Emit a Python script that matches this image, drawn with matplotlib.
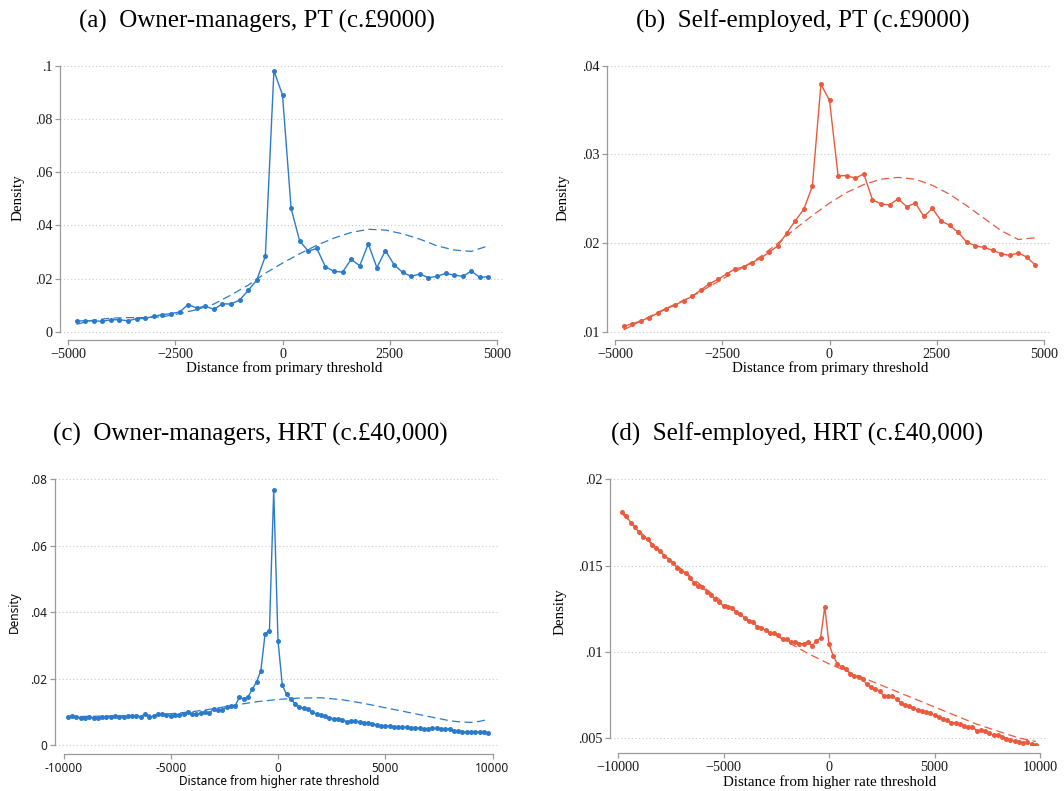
import numpy as np
import matplotlib
matplotlib.use("Agg")
import matplotlib.pyplot as plt

W, H = 1064, 791
BLUE = "#2b7bcc"
RED = "#ea5a3d"
SERIF = ["Liberation Serif", "DejaVu Serif"]
SANS = ["Noto Sans", "DejaVu Sans"]

# (a) owner-managers, primary threshold, 200-wide bins
a_x = np.arange(-4800, 4801, 200)
a_y = [0.0040, 0.0041, 0.0041, 0.0039, 0.0045, 0.0045, 0.0041, 0.0049, 0.0050, 0.0058,
       0.0064, 0.0068, 0.0074, 0.0102, 0.0089, 0.0096, 0.0084, 0.0105, 0.0104, 0.0119,
       0.0155, 0.0194, 0.0284, 0.0981, 0.0890, 0.0464, 0.0341, 0.0303, 0.0313, 0.0244,
       0.0227, 0.0224, 0.0272, 0.0248, 0.0330, 0.0241, 0.0305, 0.0252, 0.0223, 0.0208,
       0.0217, 0.0203, 0.0208, 0.0219, 0.0213, 0.0208, 0.0228, 0.0204, 0.0207]
a_fit_x = [-4800, -4400, -4000, -3600, -3200, -2800, -2400, -2000, -1600, -1200, -800, -400,
           0, 400, 800, 1200, 1600, 2000, 2400, 2800, 3200, 3600, 4000, 4400, 4800]
a_fit_y = [0.0028, 0.0044, 0.0051, 0.0053, 0.0053, 0.0056, 0.0068, 0.0083, 0.0104, 0.0138,
           0.0175, 0.0220, 0.0258, 0.0293, 0.0325, 0.0352, 0.0373, 0.0385, 0.0382, 0.0368,
           0.0348, 0.0323, 0.0307, 0.0302, 0.0323]

# (b) self-employed, primary threshold
b_x = np.arange(-4800, 4801, 200)
b_y = [0.0106, 0.0109, 0.0112, 0.0116, 0.0121, 0.0126, 0.0130, 0.0135, 0.0140, 0.0147,
       0.0154, 0.0159, 0.0165, 0.0171, 0.0173, 0.0178, 0.0183, 0.0190, 0.0197, 0.0211,
       0.0225, 0.0238, 0.0264, 0.0379, 0.0361, 0.0276, 0.0276, 0.0273, 0.0278, 0.0249,
       0.0244, 0.0243, 0.0250, 0.0241, 0.0245, 0.0230, 0.0239, 0.0225, 0.0220, 0.0212,
       0.0201, 0.0197, 0.0195, 0.0192, 0.0188, 0.0186, 0.0189, 0.0184, 0.0175]
b_fit_x = a_fit_x
b_fit_y = [0.0102, 0.0112, 0.0122, 0.0131, 0.0140, 0.0151, 0.0162, 0.0173, 0.0185, 0.0200,
           0.0216, 0.0231, 0.0245, 0.0257, 0.0266, 0.0272, 0.0274, 0.0272, 0.0265, 0.0255,
           0.0242, 0.0228, 0.0214, 0.0204, 0.0206]

# (c) owner-managers, higher rate threshold
c_x = np.arange(-9800, 9801, 200)
c_y = [0.0086, 0.0089, 0.0086, 0.0083, 0.0082, 0.0086, 0.0082, 0.0082, 0.0085, 0.0085,
       0.0086, 0.0088, 0.0085, 0.0085, 0.0088, 0.0088, 0.0088, 0.0086, 0.0094, 0.0086,
       0.0088, 0.0095, 0.0094, 0.0092, 0.0089, 0.0091, 0.0092, 0.0095, 0.0099, 0.0094,
       0.0094, 0.0096, 0.0101, 0.0096, 0.0110, 0.0106, 0.0106, 0.0115, 0.0119, 0.0118,
       0.0145, 0.0139, 0.0146, 0.0168, 0.0191, 0.0224, 0.0336, 0.0345, 0.0767, 0.0315,
       0.0181, 0.0153, 0.0138, 0.0125, 0.0116, 0.0111, 0.0110, 0.0099, 0.0094, 0.0091,
       0.0088, 0.0082, 0.0080, 0.0080, 0.0077, 0.0071, 0.0073, 0.0072, 0.0071, 0.0068,
       0.0066, 0.0065, 0.0061, 0.0059, 0.0059, 0.0058, 0.0055, 0.0055, 0.0054, 0.0054,
       0.0051, 0.0052, 0.0052, 0.0049, 0.0050, 0.0051, 0.0051, 0.0050, 0.0048, 0.0050,
       0.0044, 0.0044, 0.0041, 0.0040, 0.0041, 0.0041, 0.0040, 0.0040, 0.0038]
c_fit_x = [-9800, -9000, -8000, -7000, -6000, -5000, -4000, -3000, -2000, -1000, 0,
           1000, 2000, 3000, 4000, 5000, 6000, 7000, 8000, 8500, 9000, 9400, 9800]
c_fit_y = [0.0086, 0.0087, 0.0088, 0.0089, 0.0091, 0.0095, 0.0101, 0.0110, 0.0121, 0.0131, 0.0138,
           0.0142, 0.0143, 0.0137, 0.0126, 0.0113, 0.0100, 0.0087, 0.0074, 0.0070, 0.0069, 0.0072, 0.0078]

# (d) self-employed, higher rate threshold
d_x = np.arange(-9800, 9801, 200)
d_y = [0.01809, 0.01787, 0.01749, 0.01722, 0.01693, 0.01664, 0.01656, 0.01617, 0.01604, 0.01582,
       0.01557, 0.01534, 0.01517, 0.01488, 0.01470, 0.01459, 0.01428, 0.01401, 0.01379, 0.01376,
       0.01349, 0.01331, 0.01308, 0.01291, 0.01263, 0.01262, 0.01256, 0.01231, 0.01221, 0.01196,
       0.01180, 0.01175, 0.01142, 0.01140, 0.01124, 0.01107, 0.01107, 0.01095, 0.01072, 0.01072,
       0.01055, 0.01057, 0.01047, 0.01047, 0.01055, 0.01035, 0.01062, 0.01080, 0.01260, 0.01043,
       0.00977, 0.00929, 0.00912, 0.00902, 0.00871, 0.00859, 0.00852, 0.00840, 0.00811, 0.00794,
       0.00786, 0.00771, 0.00743, 0.00745, 0.00742, 0.00724, 0.00705, 0.00691, 0.00686, 0.00672,
       0.00664, 0.00655, 0.00653, 0.00645, 0.00631, 0.00624, 0.00608, 0.00606, 0.00587, 0.00589,
       0.00581, 0.00569, 0.00562, 0.00566, 0.00541, 0.00544, 0.00539, 0.00527, 0.00517, 0.00517,
       0.00508, 0.00496, 0.00488, 0.00484, 0.00479, 0.00469, 0.00477, 0.00463, 0.00457]
d_fit_x = [-9800, -8000, -6000, -4000, -2000, -1000, 0, 1000, 2000, 3000, 4000, 5000,
           6000, 7000, 8000, 9000, 9800]
d_fit_y = [0.0180, 0.0158, 0.0138, 0.0119, 0.0106, 0.0099, 0.0093, 0.0088, 0.0083, 0.0078, 0.0073,
           0.0068, 0.0063, 0.0058, 0.0054, 0.0050, 0.0048]

titles = ["(a)  Owner-managers, PT (c.\u00a39000)", "(b)  Self-employed, PT (c.\u00a39000)",
          "(c)  Owner-managers, HRT (c.\u00a340,000)", "(d)  Self-employed, HRT (c.\u00a340,000)"]
xlabels = ["Distance from primary threshold", "Distance from primary threshold",
           "Distance from higher rate threshold", "Distance from higher rate threshold"]
a_yticks = [0, 0.02, 0.04, 0.06, 0.08, 0.1]
a_ylabs = ["0", ".02", ".04", ".06", ".08", ".1"]
b_yticks = [0.01, 0.02, 0.03, 0.04]
b_ylabs = [".01", ".02", ".03", ".04"]
c_yticks = [0, 0.02, 0.04, 0.06, 0.08]
c_ylabs = ["0", ".02", ".04", ".06", ".08"]
d_yticks = [0.005, 0.01, 0.015, 0.02]
d_ylabs = [".005", ".01", ".015", ".02"]
pt_xticks = [-5000, -2500, 0, 2500, 5000]
pt_xlabs = ["\u22125000", "\u22122500", "0", "2500", "5000"]
hrt_xticks = [-10000, -5000, 0, 5000, 10000]
hrt_xlabs_sans = ["-10000", "-5000", "0", "5000", "10000"]
hrt_xlabs = ["\u221210000", "\u22125000", "0", "5000", "10000"]

fig = plt.figure(figsize=(W / 100, H / 100), dpi=100)


def make_ax(xt, xp, yt, yp, left, right, top, bottom, spine_px):
    sx = (xp[1] - xp[0]) / (xt[1] - xt[0])
    sy = (yp[1] - yp[0]) / (yt[1] - yt[0])
    ax = fig.add_axes([left / W, 1 - bottom / H, (right - left) / W, (bottom - top) / H])
    ax.set_xlim(xt[0] + (left - xp[0]) / sx, xt[0] + (right - xp[0]) / sx)
    ax.set_ylim(yt[0] + (bottom - yp[0]) / sy, yt[0] + (top - yp[0]) / sy)
    for s in ["top", "right"]:
        ax.spines[s].set_visible(False)
    for s in ["left", "bottom"]:
        ax.spines[s].set_color("#9a9a9a")
        ax.spines[s].set_linewidth(0.9)
    ax.spines["bottom"].set_position(("outward", (spine_px - bottom) * 0.72))
    ax.tick_params(colors="#9a9a9a", labelcolor="#1a1a1a", length=3.5, width=0.9, pad=2)
    return ax


def finish(ax, xticks, xlabs, yticks, ylabs, font, size):
    ax.set_xticks(xticks)
    ax.set_xticklabels(xlabs, family=font, fontsize=size)
    ax.set_yticks(yticks)
    ax.set_yticklabels(ylabs, family=font, fontsize=size)
    ax.spines["bottom"].set_bounds(xticks[0], xticks[-1])
    ax.spines["left"].set_bounds(yticks[0], yticks[-1])
    for t in yticks:
        ax.axhline(t, color="#c8c8c8", lw=0.8, ls=(0, (1, 2.2)), zorder=0)


def lab(ax, i, xc, yc, ylx, yly, font, size):
    bb = ax.get_position()
    ax.set_xlabel(xlabels[i], family=font, fontsize=size)
    ax.set_ylabel("Density", family=font, fontsize=size)
    ax.xaxis.set_label_coords((xc / W - bb.x0) / bb.width, ((1 - yc / H) - bb.y0) / bb.height)
    ax.yaxis.set_label_coords((ylx / W - bb.x0) / bb.width, ((1 - yly / H) - bb.y0) / bb.height)
    ax.xaxis.label.set_va("center")
    ax.yaxis.label.set_va("center")


def series(ax, x, y, fx, fy, col):
    ax.plot(fx, fy, color=col, lw=0.9, ls=(0, (6.5, 3.5)), zorder=2)
    ax.plot(x, y, color=col, lw=1.0, marker="o", ms=3.6, mew=0, zorder=3)


# (a)
ax = make_ax((-5000, 5000), (68, 497), (0, 0.1), (331.7, 65.7), 60, 504, 62, 335, 340)
series(ax, a_x, a_y, a_fit_x, a_fit_y, BLUE)
finish(ax, pt_xticks, pt_xlabs, a_yticks, a_ylabs, SERIF, 10.2)
lab(ax, 0, 284, 368, 18, 198, SERIF, 10.8)

# (b)
ax = make_ax((-5000, 5000), (615, 1044), (0.01, 0.04), (331.7, 65.7), 607, 1050, 62, 335, 340)
series(ax, b_x, b_y, b_fit_x, b_fit_y, RED)
finish(ax, pt_xticks, pt_xlabs, b_yticks, b_ylabs, SERIF, 10.2)
lab(ax, 1, 830, 368, 563, 198, SERIF, 10.8)

# (c)
ax = make_ax((-10000, 10000), (63.5, 492.5), (0, 0.08), (745.3, 479.3), 55, 500, 476, 748, 754)
series(ax, c_x, c_y, c_fit_x, c_fit_y, BLUE)
finish(ax, hrt_xticks, hrt_xlabs_sans, c_yticks, c_ylabs, SANS, 8.5)
lab(ax, 2, 279, 782, 14, 612, SANS, 8.5)

# (d)
ax = make_ax((-10000, 10000), (618, 1040), (0.005, 0.02), (738, 479.3), 610, 1048, 476, 745, 753)
series(ax, d_x, d_y, d_fit_x, d_fit_y, RED)
finish(ax, hrt_xticks, hrt_xlabs, d_yticks, d_ylabs, SERIF, 10.2)
lab(ax, 3, 830, 782, 560, 612, SERIF, 10.8)

for t, (xc, yc) in zip(titles, [(257, 21), (803, 21), (250, 434), (797, 434)]):
    fig.text(xc / W, 1 - yc / H, t, family=SERIF, fontsize=18, ha="center", va="center")

fig.savefig("out.png", dpi=100)
